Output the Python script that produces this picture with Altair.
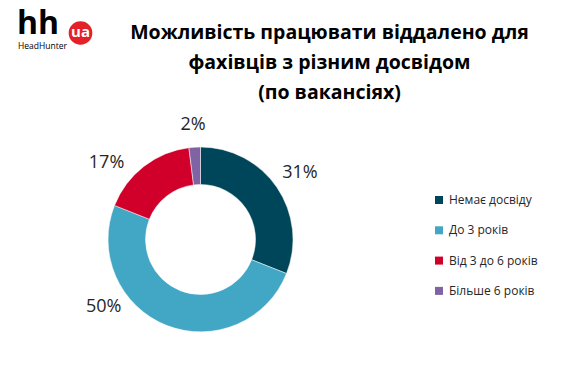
import altair as alt
import pandas as pd

categories = ["Немає досвіду", "До 3 років", "Від 3 до 6 років", "Більше 6 років"]
values = [31, 50, 17, 2]
labels = ["31%", "50%", "17%", "2%"]
colors = ["#00465A", "#42A6C5", "#D0002B", "#7F63A3"]
title_lines = ["Можливість працювати віддалено для", "фахівців з різним досвідом", "(по вакансіях)"]

df = pd.DataFrame({"cat": categories, "value": values, "label": labels, "order": list(range(len(values)))})
one = pd.DataFrame({"k": [0]})

W, H = 552, 350
CX, CY = 192.5, 231.5

color = alt.Color("cat:N", sort=categories,
                  scale=alt.Scale(domain=categories, range=colors),
                  legend=alt.Legend(title=None, orient="none", legendX=425, legendY=186,
                                    symbolType="square", symbolSize=64, symbolStrokeWidth=0,
                                    labelFont="Open Sans", labelFontSize=12, labelColor="#262626",
                                    rowPadding=18.3, labelOffset=4))

arcs = alt.Chart(df).mark_arc(outerRadius=92.5, innerRadius=55, stroke="white", strokeWidth=0.5).encode(
    theta=alt.Theta("value:Q", stack=True),
    order=alt.Order("order:Q"),
    color=color, x=alt.value(CX), y=alt.value(CY))

# label nudges to mimic the spreadsheet's best-fit placement
nudges = {"31%": (1, 0), "50%": (-53, -43), "17%": (-21, 18), "2%": (0, 4)}
label_base = alt.Chart(df).transform_window(
    cum="sum(value)", sort=[alt.SortField("order")], frame=[None, 0]
).transform_calculate(
    mid="datum.cum - datum.value / 2"
)
label_layers = []
for lab, (ddx, ddy) in nudges.items():
    label_layers.append(
        label_base.transform_filter(alt.datum.label == lab).mark_text(
            radius=119, font="Open Sans", fontSize=18, color="#262626", dx=ddx, dy=ddy
        ).encode(
            theta=alt.Theta("mid:Q", stack=None,
                            scale=alt.Scale(domain=[0, sum(values)], range=[0, 6.283185307])),
            text="label:N", x=alt.value(CX), y=alt.value(CY)
        )
    )

title = alt.Chart(one).mark_text(
    text=title_lines, font="Open Sans", fontSize=19.5, fontWeight="bold", color="#000000",
    align="center", baseline="alphabetic", lineHeight=30
).encode(x=alt.value(321.5), y=alt.value(31))

logo_hh = alt.Chart(one).mark_text(text="hh", font="Open Sans", fontSize=32, fontWeight="bold",
                                   color="#000000", align="left", baseline="alphabetic"
                                   ).encode(x=alt.value(9), y=alt.value(26))
logo_circle = alt.Chart(one).mark_circle(size=560, color="#E4202A", opacity=1).encode(
    x=alt.value(72.5), y=alt.value(25))
logo_ua = alt.Chart(one).mark_text(text="ua", font="Open Sans", fontSize=15, fontWeight="bold",
                                   color="white", align="center", baseline="middle").encode(
    x=alt.value(72.5), y=alt.value(23.5))
logo_hh2 = alt.Chart(one).mark_text(text="HeadHunter", font="Open Sans", fontSize=8.5,
                                    color="#000000", align="left", baseline="alphabetic").encode(
    x=alt.value(10), y=alt.value(41))

chart = alt.layer(arcs, *label_layers, title, logo_hh, logo_circle, logo_ua, logo_hh2).properties(
    width=W, height=H, padding=0,
    autosize=alt.AutoSizeParams(type="fit", contains="padding")
).configure_view(stroke=None)

chart.save("out.html", embed_options={"renderer": "svg", "actions": False})
